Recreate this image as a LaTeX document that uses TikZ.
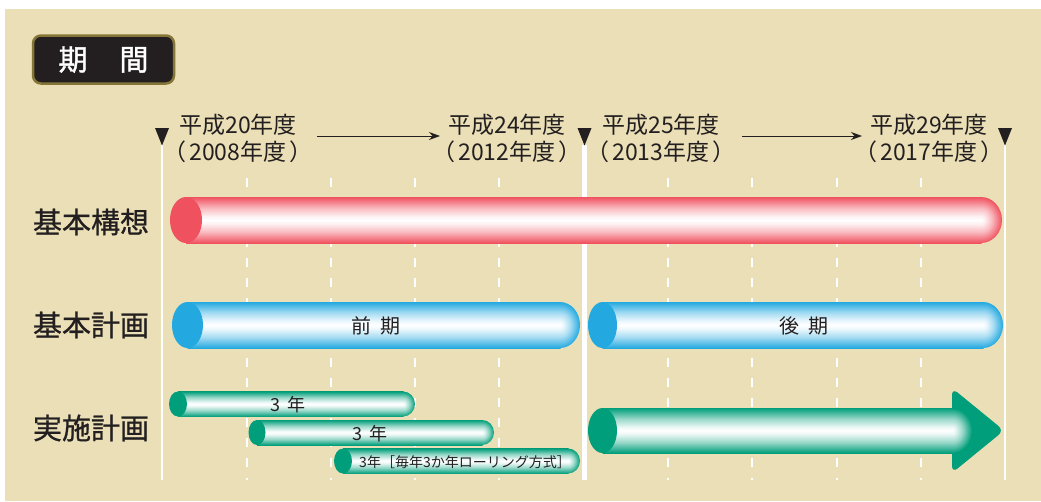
\documentclass[tikz,border=0pt]{standalone}
\usepackage{fontspec}
\setmainfont{Noto Sans CJK JP}
\newfontfamily\jpmed{Noto Sans CJK JP}[FakeBold=0.8]
\newfontfamily\jptitle{Noto Sans CJK JP}[FakeBold=1.5]
\usetikzlibrary{arrows.meta}
\definecolor{bg}{HTML}{EADFB6}
\definecolor{ink}{HTML}{231F20}
\definecolor{olivebd}{HTML}{857638}
\definecolor{cR}{HTML}{F0515F}
\definecolor{cB}{HTML}{23A9E0}
\definecolor{cG}{HTML}{009E7A}
\newcommand\mkshade[1]{%
 \colorlet{c#1A}{c#1!80!white}\colorlet{c#1B}{c#1!40!white}\colorlet{c#1C}{c#1!8!white}%
 \pgfdeclareverticalshading{bar#1}{100bp}{color(0bp)=(c#1); color(25bp)=(c#1); color(29bp)=(c#1A); color(37bp)=(c#1B); color(46bp)=(c#1C); color(50bp)=(white); color(54bp)=(c#1C); color(63bp)=(c#1B); color(71bp)=(c#1A); color(75bp)=(c#1); color(100bp)=(c#1)}%
 \pgfdeclareradialshading{cap#1}{\pgfpoint{0bp}{0bp}}{color(0bp)=(white); color(4bp)=(c#1C); color(13bp)=(c#1B); color(21bp)=(c#1A); color(25bp)=(c#1); color(50bp)=(c#1)}%
}
\mkshade{R}\mkshade{B}\mkshade{G}
% #1 left-centre x, #2 centre y, #3 left ellipse rx, #4 ry, #5 right end x, #6 cap rx, #7 colour key
\newcommand\cylbar[7]{%
 \path[shading=bar#7] (#1,#2-#4) rectangle (#5-#6+0.6,#2+#4);
 \begin{scope}
  \clip (#5-#6,#2-#4-1) rectangle (#5+1,#2+#4+1);
  \path[shading=cap#7] (#5-#6,#2) ellipse [x radius=#6pt, y radius=#4pt];
 \end{scope}
 \fill[c#7] (#1,#2) ellipse [x radius=#3pt, y radius=#4pt];
}
\newcommand\lp{（\hspace{0.15em}}
\newcommand\rp{\hspace{0.15em}）}
\begin{document}
\begin{tikzpicture}[x=1pt,y=-1pt,
  txt/.style={inner sep=0pt, anchor=base, text=ink},
  yr/.style={txt, font=\fontsize{23pt}{23pt}\selectfont},
  rowlab/.style={txt, font=\fontsize{29pt}{29pt}\selectfont\jpmed},
  barlab/.style={txt, font=\fontsize{20pt}{20pt}\selectfont},
  smlab/.style={txt, font=\fontsize{18pt}{18pt}\selectfont},
  vsolid/.style={white, line width=1.8pt},
  vdash/.style={white, line width=2pt, dash pattern=on 9pt off 11pt},
  tri/.style={fill=ink},
  hdarrow/.style={ink, line width=1pt, -{Stealth[length=11pt,width=8pt]}}]
\useasboundingbox (0,0) rectangle (1041,501);
\fill[bg] (5,9) rectangle (1041,501);

% title
\node[draw=olivebd, fill=ink, line width=2.5pt, rounded corners=8pt,
      minimum width=141pt, minimum height=48pt, inner sep=0pt,
      text=white, font=\fontsize{29pt}{29pt}\selectfont\jptitle] (title) at (103.5,59.5) {期\hspace{1.1em}間};

% grid lines
\foreach \x in {246.7,331,415,499.3,667.8,752.3,836.6,921}
  \draw[vdash] (\x,178) -- (\x,480);
\draw[vsolid] (162,145) -- (162,480);
\draw[white, line width=5pt] (584.5,145) -- (584.5,480);
\draw[vsolid] (1005,145) -- (1005,480);

% triangles
\foreach \x in {162,584.5,1005}
  \fill[tri] (\x-7,128) -- (\x+7,128) -- (\x,145.5) -- cycle;

% year labels
\node[yr] (y20a) at (238,133) {平成20年度};
\node[yr] (y20b) at (238,160) {\lp 2008年度\rp};
\node[yr] (y24a) at (507,133) {平成24年度};
\node[yr] (y24b) at (507,160) {\lp 2012年度\rp};
\node[yr] (y25a) at (661,133) {平成25年度};
\node[yr] (y25b) at (661,160) {\lp 2013年度\rp};
\node[yr] (y29a) at (929,133) {平成29年度};
\node[yr] (y29b) at (929,160) {\lp 2017年度\rp};
\coordinate (a1s) at (317,136);
\coordinate (a1e) at (440,136);
\coordinate (a2s) at (742,136);
\coordinate (a2e) at (862,136);
\draw[hdarrow] (a1s) -- (a1e);
\draw[hdarrow] (a2s) -- (a2e);

% row labels
\node[rowlab] (r1) at (91,233) {基本構想};
\node[rowlab] (r2) at (91,336) {基本計画};
\node[rowlab] (r3) at (91,439) {実施計画};

% bars
\cylbar{186}{220}{16}{23}{1002}{21}{R}
\cylbar{187.5}{325}{15.5}{23}{580}{20}{B}
\cylbar{602.5}{325}{14.5}{23}{1003}{20}{B}
\node[barlab] (b1) at (376,333) {前\hspace{9pt}期};
\node[barlab] (b2) at (804,333) {後\hspace{9pt}期};

\cylbar{178}{404}{9}{12.5}{415}{12}{G}
\cylbar{257}{432.5}{8.5}{12.5}{494}{12}{G}
\cylbar{343}{461}{9}{12.5}{580}{12}{G}
\node[smlab] (s1) at (288,411) {3\hspace{7pt}年};
\node[smlab] (s2) at (370,440) {3\hspace{7pt}年};
\node[txt, font=\fontsize{14pt}{14pt}\selectfont] (s3) at (465,467) {3年［毎年3か年ローリング方式］};

% big arrow
\fill[cG, rounded corners=7pt] (952,388) -- (1004,430.5) -- (952,473) -- cycle;
\cylbar{602.5}{430.5}{14.5}{22.5}{972}{20}{G}
\end{tikzpicture}
\end{document}
